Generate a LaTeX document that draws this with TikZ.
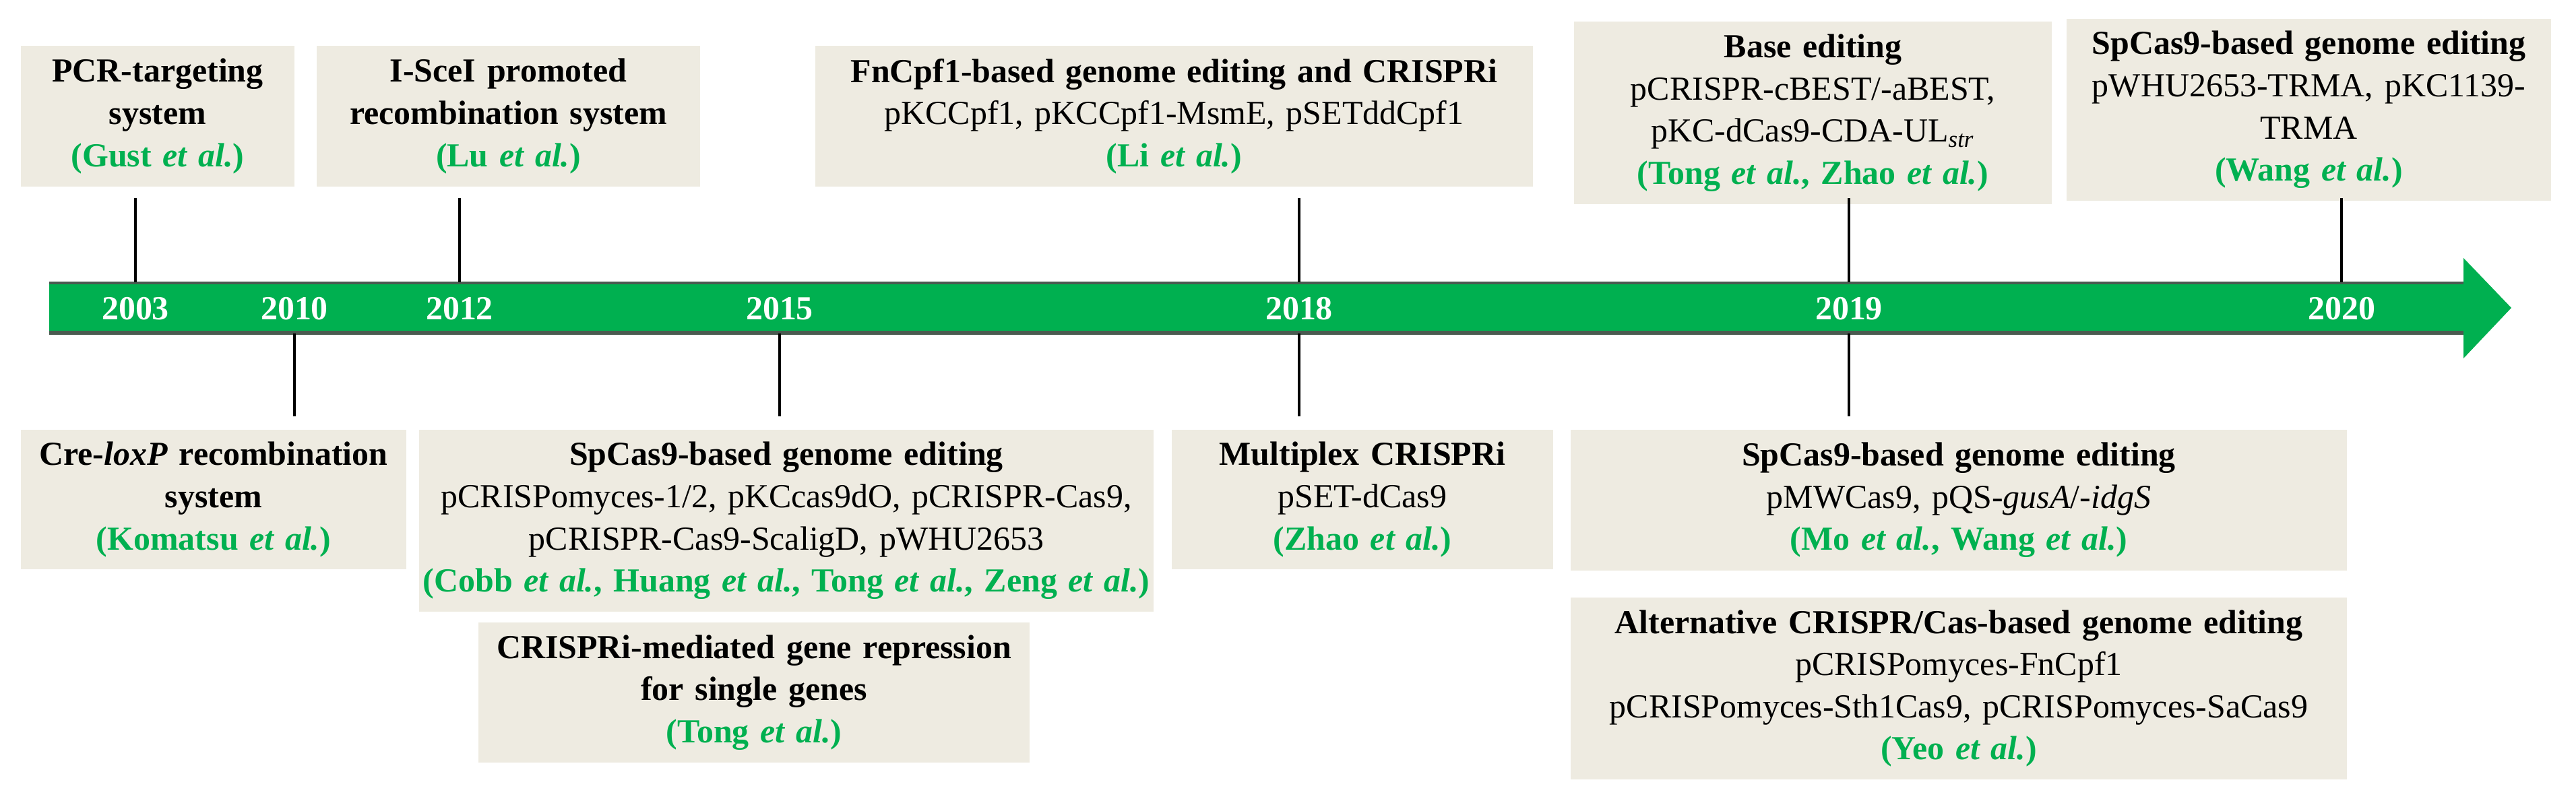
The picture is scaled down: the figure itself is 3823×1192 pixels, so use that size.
\documentclass[tikz,border=0pt]{standalone}
\usepackage{fontspec}
\setmainfont{Liberation Serif}
\definecolor{bargreen}{HTML}{00B050}
\definecolor{citegreen}{HTML}{00B050}
\definecolor{boxbeige}{HTML}{EEEBE1}
\definecolor{baredge}{HTML}{4A5A50}
\newcommand{\etal}{\textit{et al.}}
\newcommand{\cit}[1]{\textcolor{citegreen}{\textbf{(#1)}}}

\begin{document}
\begin{tikzpicture}[x=0.01cm, y=-0.01cm,
			every node/.style = {font=\fontsize{14.2}{17.8}\selectfont},
			infobox/.style = {fill=boxbeige, inner sep=0pt, align=center},
			yearlabel/.style = {text=white, font=\fontsize{14.2}{16}\selectfont\bfseries},
			tick/.style = {line width=1.2pt}]
			\useasboundingbox (0,0) rectangle (3823,1192);
			
			% time bar
			\fill[bargreen] (73,419) rectangle (3656,495);
			\fill[bargreen] (3656,383) -- (3727,457) -- (3656,532) -- cycle;
			\draw[baredge, line width=1.2pt] (73,420) -- (3656,420);
			\draw[baredge, line width=1.6pt] (73,494) -- (3656,494);
			\coordinate (bartop) at (0,419);
			\coordinate (barbot) at (0,495);
			
			\foreach \yr/\xx in {2003/201, 2010/437, 2012/682, 2015/1157, 2018/1928, 2019/2744, 2020/3475}
				\node[yearlabel] (y\yr) at (\xx,458) {\yr};
			
			% boxes above the bar
			\node[infobox, text width=4.06cm, minimum height=2.09cm] (pcr) at (234,172.5)
				{\textbf{PCR-targeting}\\\textbf{system}\\\cit{Gust \etal}};
			\node[infobox, text width=5.69cm, minimum height=2.09cm] (scei) at (754.5,172.5)
				{\textbf{I-SceI promoted}\\\textbf{recombination system}\\\cit{Lu \etal}};
			\node[infobox, text width=10.65cm, minimum height=2.09cm] (fncpf) at (1742.5,172.5)
				{\textbf{FnCpf1-based genome editing and CRISPRi}\\pKCCpf1, pKCCpf1-MsmE, pSETddCpf1\\\cit{Li \etal}};
			\node[infobox, text width=7.09cm, minimum height=2.71cm] (base) at (2690.5,167.5)
				{\textbf{Base editing}\\pCRISPR-cBEST/-aBEST,\\pKC-dCas9-CDA-UL\textsubscript{\textit{str}}\\\cit{Tong \etal, Zhao \etal}};
			\node[infobox, text width=7.19cm, minimum height=2.70cm] (sptwenty) at (3426.5,163)
				{\textbf{SpCas9-based genome editing}\\pWHU2653-TRMA, pKC1139-\\TRMA\\\cit{Wang \etal}};
			
			% boxes below the bar
			\node[infobox, text width=5.72cm, minimum height=2.07cm] (cre) at (317,741.5)
				{\textbf{Cre-\textit{loxP} recombination}\\\textbf{system}\\\cit{Komatsu \etal}};
			\node[infobox, text width=10.90cm, minimum height=2.70cm] (spfifteen) at (1167,773)
				{\textbf{SpCas9-based genome editing}\\pCRISPomyces-1/2, pKCcas9dO, pCRISPR-Cas9,\\pCRISPR-Cas9-ScaligD, pWHU2653\\\cit{Cobb \etal, Huang \etal, Tong \etal, Zeng \etal}};
			\node[infobox, text width=8.18cm, minimum height=2.08cm] (crispri) at (1119,1028)
				{\textbf{CRISPRi-mediated gene repression}\\\textbf{for single genes}\\\cit{Tong \etal}};
			\node[infobox, text width=5.66cm, minimum height=2.07cm] (multi) at (2022,741.5)
				{\textbf{Multiplex CRISPRi}\\pSET-dCas9\\\cit{Zhao \etal}};
			\node[infobox, text width=11.52cm, minimum height=2.09cm] (spnineteen) at (2907,742.5)
				{\textbf{SpCas9-based genome editing}\\pMWCas9, pQS-\textit{gusA}/-\textit{idgS}\\\cit{Mo \etal, Wang \etal}};
			\node[infobox, text width=11.52cm, minimum height=2.70cm] (alt) at (2907,1022)
				{\textbf{Alternative CRISPR/Cas-based genome editing}\\pCRISPomyces-FnCpf1\\pCRISPomyces-Sth1Cas9, pCRISPomyces-SaCas9\\\cit{Yeo \etal}};
			
			% ticks
			\foreach \yr/\xx in {2003/201, 2012/682, 2018/1928, 2019/2744, 2020/3475}{
				\coordinate (up\yr) at (\xx,294);
				\draw[tick] (up\yr) -- (up\yr |- bartop);
			}
			\foreach \yr/\xx in {2010/437, 2015/1157, 2018/1928, 2019/2744}{
				\coordinate (dn\yr) at (\xx,618);
				\draw[tick] (dn\yr) -- (dn\yr |- barbot);
			}
\end{tikzpicture}
\end{document}
